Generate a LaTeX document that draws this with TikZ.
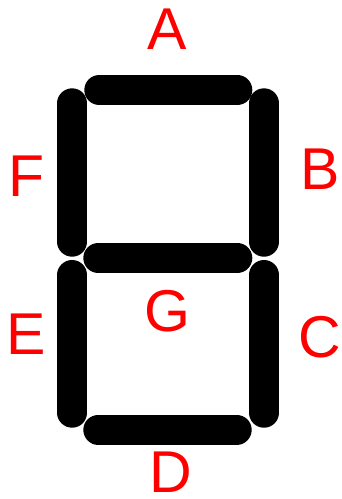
\documentclass[tikz,border=0pt]{standalone}
\usepackage{fontspec}
\setmainfont{Liberation Sans}
\begin{document}
\begin{tikzpicture}[x=1pt,y=-1pt,
  segment/.style={line width=30pt,line cap=round,black},
  seglabel/.style={text=red,font=\fontsize{59}{59}\selectfont,inner sep=0pt,anchor=center}]
\useasboundingbox[fill=white] (0,0) rectangle (341,499);
% seven segments
\draw[segment] (99.3,90) -- (237.3,90);     % A
\draw[segment] (264,103.3) -- (264,241.7);  % B
\draw[segment] (264,275) -- (264,412.7);    % C
\draw[segment] (98.3,429.7) -- (236.7,429.7); % D
\draw[segment] (72.3,275) -- (72.3,412.7);  % E
\draw[segment] (72.3,103.3) -- (72.3,241.7); % F
\draw[segment] (98.3,258) -- (237.3,258);   % G
% segment labels
\node[seglabel] (lA) at (166.7,29.5) {A};
\node[seglabel] (lB) at (320,169.5) {B};
\node[seglabel] (lC) at (320,337) {C};
\node[seglabel] (lD) at (171,472.5) {D};
\node[seglabel] (lE) at (26,334) {E};
\node[seglabel] (lF) at (27,176) {F};
\node[seglabel] (lG) at (167.5,311) {G};
\end{tikzpicture}
\end{document}
